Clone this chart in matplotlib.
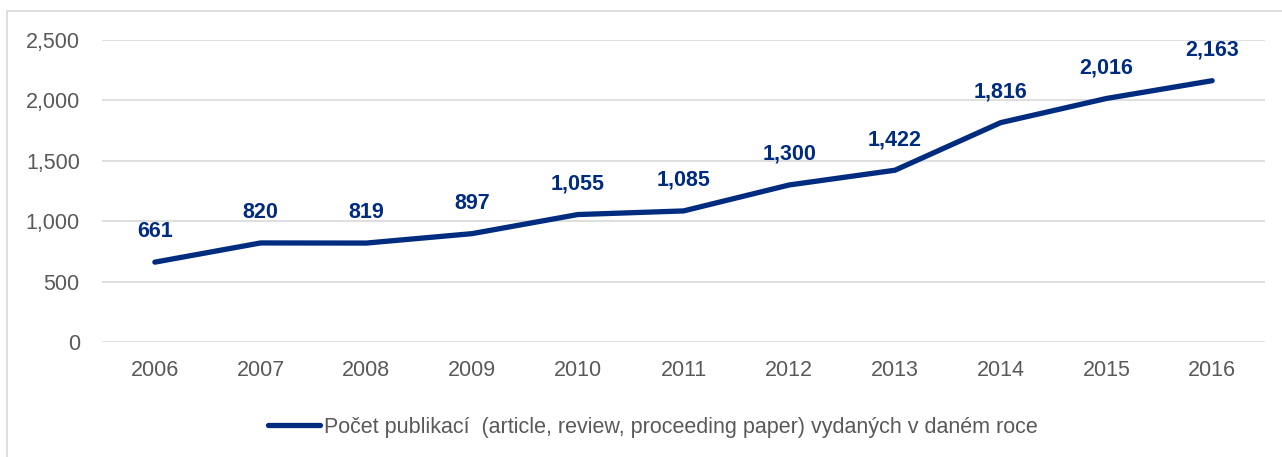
import matplotlib.pyplot as plt
from matplotlib.patches import Rectangle

years = ["2006", "2007", "2008", "2009", "2010", "2011", "2012", "2013", "2014", "2015", "2016"]
counts = [661, 820, 819, 897, 1055, 1085, 1300, 1422, 1816, 2016, 2163]
series_name = "Počet publikací  (article, review, proceeding paper) vydaných v daném roce"

plt.rcParams['font.family'] = ['Liberation Sans', 'DejaVu Sans']
navy = '#002C80'
gray = '#595959'

fig = plt.figure(figsize=(12.82, 4.57), dpi=100)
ax = fig.add_axes([102 / 1282, 1 - 342 / 457, (1265 - 102) / 1282, (342 - 40) / 457])

x = list(range(len(years)))
ax.plot(x, counts, color=navy, linewidth=3.8, solid_capstyle='round', label=series_name)
for xi, v in zip(x, counts):
    ax.annotate(f"{v:,}", (xi, v), xytext=(0, 22), textcoords='offset points',
                ha='center', va='center', fontsize=15.5, fontweight='bold', color=navy)

ax.set_xlim(-0.5, len(years) - 0.5)
ax.set_ylim(0, 2500)
ax.set_yticks(range(0, 2501, 500))
ax.set_yticklabels([f"{t:,}" for t in range(0, 2501, 500)])
ax.set_xticks(x)
ax.set_xticklabels(years)
ax.tick_params(axis='both', length=0, labelsize=15.5, labelcolor=gray)
ax.tick_params(axis='y', pad=16)
ax.tick_params(axis='x', pad=13)
ax.grid(axis='y', color='#d9d9d9', linewidth=1.2)
ax.set_axisbelow(True)
for s in ax.spines.values():
    s.set_visible(False)

fig.legend(loc='center', bbox_to_anchor=(653 / 1282, 1 - 427 / 457), frameon=False,
           fontsize=15.5, labelcolor=gray, handlelength=2.4, handletextpad=0.2)

fig.patches.append(Rectangle((7 / 1282, -0.1), 1.2, 1 - 11 / 457 + 0.1, transform=fig.transFigure,
                             fill=False, edgecolor='#d9d9d9', linewidth=1.2))

fig.savefig('out.png', dpi=100)
